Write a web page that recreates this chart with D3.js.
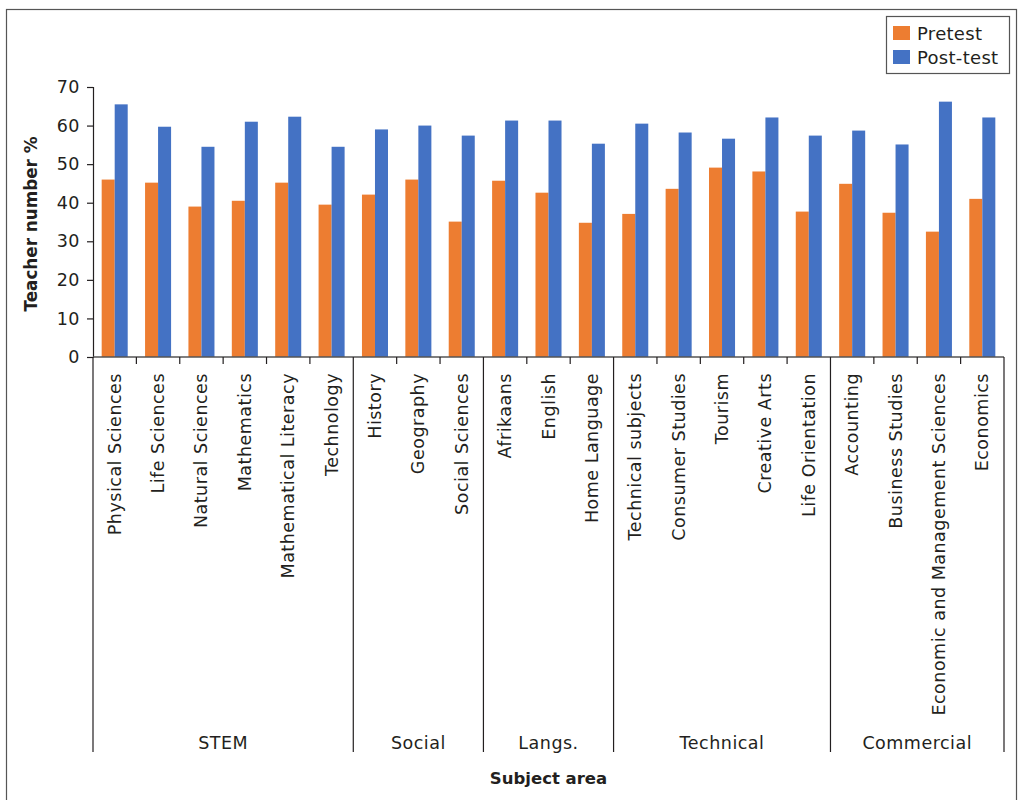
<!DOCTYPE html>
<html>
<head>
<meta charset="utf-8">
<script src="https://cdn.jsdelivr.net/npm/d3@7"></script>
<style>
  body { margin: 0; background: #fff; }
  text { font-family: "DejaVu Sans", sans-serif; fill: #231f20; }
</style>
</head>
<body>
<svg width="1019" height="800"></svg>
<script>
// datos
const categories = ["Physical Sciences", "Life Sciences", "Natural Sciences", "Mathematics",
  "Mathematical Literacy", "Technology", "History", "Geography", "Social Sciences",
  "Afrikaans", "English", "Home Language", "Technical subjects", "Consumer Studies",
  "Tourism", "Creative Arts", "Life Orientation", "Accounting", "Business Studies",
  "Economic and Management Sciences", "Economics"];
const groups = ["STEM", "Social", "Langs.", "Technical", "Commercial"];
const groupSizes = [6, 3, 3, 5, 4];
const series = ["Pretest", "Post-test"];
const pretest = [46.0, 45.2, 39.0, 40.5, 45.2, 39.5, 42.1, 46.0, 35.1, 45.7, 42.6, 34.8,
  37.1, 43.6, 49.1, 48.1, 37.7, 44.9, 37.4, 32.5, 41.0];
const posttest = [65.5, 59.7, 54.5, 61.0, 62.3, 54.5, 59.0, 60.0, 57.4, 61.3, 61.3, 55.3,
  60.5, 58.2, 56.6, 62.1, 57.4, 58.7, 55.1, 66.2, 62.1];
const yTicks = [0, 10, 20, 30, 40, 50, 60, 70];

const colors = {"Pretest": "#ed7d31", "Post-test": "#4472c4"};

const svg = d3.select("svg");
const plotLeft = 93, plotRight = 1004, plotTop = 87, plotBottom = 357;
const lineBottom = 752;

// marco exterior
svg.append("rect")
  .attr("x", 6.5).attr("y", 9.5)
  .attr("width", 1010).attr("height", 800)
  .attr("fill", "none").attr("stroke", "#555").attr("stroke-width", 1.2);

const x0 = d3.scaleBand()
  .domain(categories)
  .range([plotLeft, plotRight])
  .paddingInner(0.4)
  .paddingOuter(0.2);

const x1 = d3.scaleBand()
  .domain(series)
  .range([0, x0.bandwidth()]);

const y = d3.scaleLinear()
  .domain([0, 70])
  .range([plotBottom, plotTop]);

const step = x0.step();

// barras
const rows = categories.map((c, i) => ({cat: c, "Pretest": pretest[i], "Post-test": posttest[i]}));

svg.append("g")
  .selectAll("g")
  .data(rows)
  .join("g")
  .attr("transform", d => `translate(${x0(d.cat)},0)`)
  .selectAll("rect")
  .data(d => series.map(s => ({key: s, value: d[s]})))
  .join("rect")
  .attr("x", d => x1(d.key))
  .attr("y", d => y(d.value))
  .attr("width", x1.bandwidth())
  .attr("height", d => y(0) - y(d.value))
  .attr("fill", d => colors[d.key]);

// eje y
const yAxis = svg.append("g")
  .attr("transform", `translate(${plotLeft},0)`)
  .call(d3.axisLeft(y).tickValues(yTicks).tickSize(6).tickPadding(7));
yAxis.select(".domain").attr("stroke", "#231f20").attr("stroke-width", 1.2);
yAxis.selectAll(".tick line").attr("stroke", "#231f20").attr("stroke-width", 1.2);
yAxis.selectAll(".tick text").style("font-size", "17.5px").style("font-family", "DejaVu Sans")
  .style("letter-spacing", "0.5px").attr("fill", "#231f20");

// linea del eje x
svg.append("line")
  .attr("x1", plotLeft).attr("x2", plotRight)
  .attr("y1", plotBottom).attr("y2", plotBottom)
  .attr("stroke", "#555").attr("stroke-width", 1.5);

// marcas pequenas entre categorias
const boundaries = [];
let acc = 0;
groupSizes.forEach(n => { boundaries.push(acc); acc += n; });
boundaries.push(acc);

svg.append("g")
  .selectAll("line")
  .data(d3.range(1, categories.length).filter(i => !boundaries.includes(i)))
  .join("line")
  .attr("x1", i => plotLeft + step * i).attr("x2", i => plotLeft + step * i)
  .attr("y1", plotBottom).attr("y2", plotBottom + 7)
  .attr("stroke", "#231f20").attr("stroke-width", 1.2);

// lineas de grupo
svg.append("g")
  .selectAll("line")
  .data(boundaries)
  .join("line")
  .attr("x1", i => plotLeft + step * i).attr("x2", i => plotLeft + step * i)
  .attr("y1", plotBottom).attr("y2", lineBottom)
  .attr("stroke", "#231f20").attr("stroke-width", 1.2);

// etiquetas de categoria
svg.append("g")
  .selectAll("text")
  .data(categories)
  .join("text")
  .attr("transform", d => `translate(${x0(d) + x0.bandwidth() / 2 + 6},373) rotate(-90)`)
  .attr("text-anchor", "end")
  .style("font-size", "17.5px")
  .style("letter-spacing", "0.5px")
  .text(d => d);

// etiquetas de grupo
svg.append("g")
  .selectAll("text")
  .data(groups)
  .join("text")
  .attr("x", (d, i) => plotLeft + step * (boundaries[i] + boundaries[i + 1]) / 2)
  .attr("y", 749)
  .attr("text-anchor", "middle")
  .style("font-size", "17.5px")
  .style("letter-spacing", "0.5px")
  .text(d => d);

// titulos de ejes
svg.append("text")
  .attr("x", (plotLeft + plotRight) / 2)
  .attr("y", 784)
  .attr("text-anchor", "middle")
  .style("font-size", "16.5px")
  .style("font-weight", "bold")
  .text("Subject area");

svg.append("text")
  .attr("transform", `translate(37,${(plotTop + plotBottom) / 2 + 2}) rotate(-90)`)
  .attr("text-anchor", "middle")
  .style("font-size", "16.8px")
  .style("font-weight", "bold")
  .text("Teacher number %");

// leyenda
const legend = svg.append("g");
legend.append("rect")
  .attr("x", 886.5).attr("y", 16.5)
  .attr("width", 123).attr("height", 57)
  .attr("fill", "#fff").attr("stroke", "#555").attr("stroke-width", 1.2);

const li = legend.selectAll("g.item")
  .data(series)
  .join("g")
  .attr("class", "item")
  .attr("transform", (d, i) => `translate(893,${26 + i * 24})`);
li.append("rect")
  .attr("width", 17).attr("height", 14)
  .attr("fill", d => colors[d]);
li.append("text")
  .attr("x", 24).attr("y", 13.5)
  .style("font-size", "18px")
  .style("letter-spacing", "0.3px")
  .text(d => d);
</script>
</body>
</html>
